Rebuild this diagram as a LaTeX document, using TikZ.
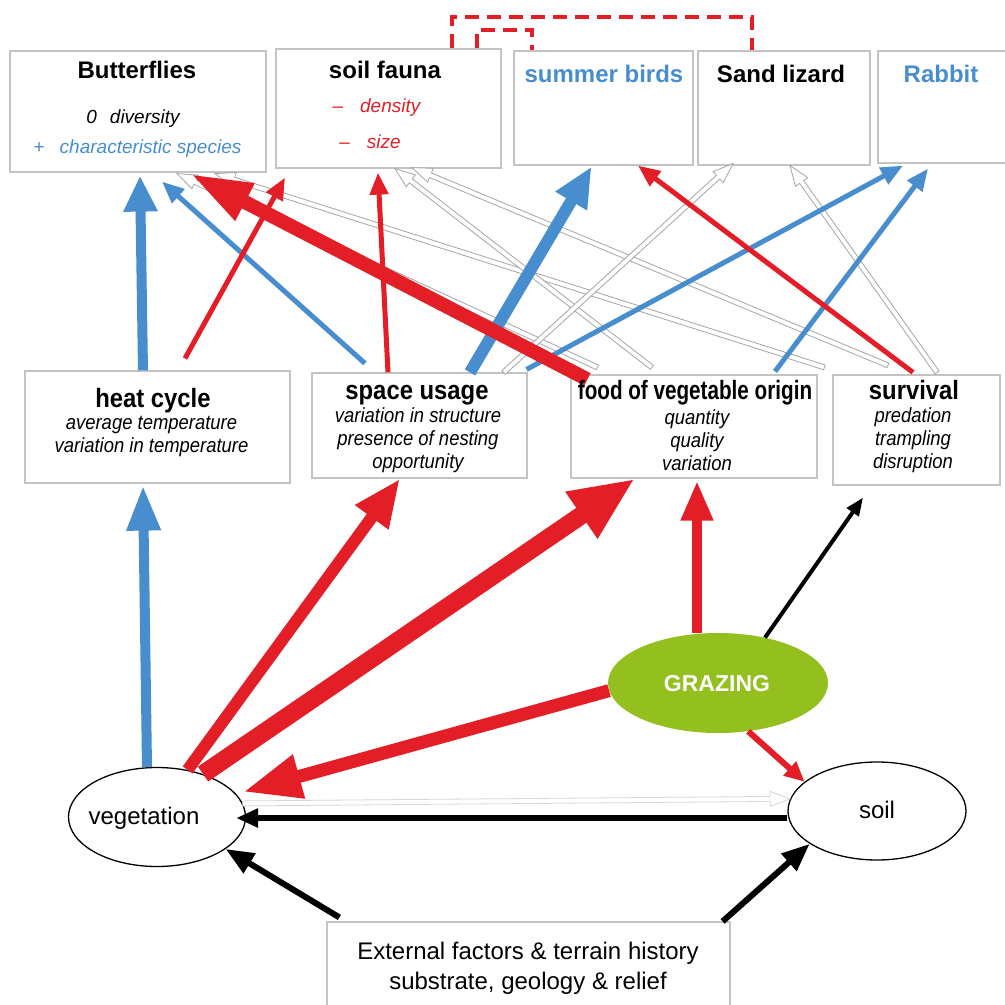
\documentclass[tikz,border=0pt]{standalone}
\usepackage{fontspec}
\setmainfont{Liberation Sans}
\newfontfamily\narrowfont{Liberation Sans}[FakeStretch=0.9]
\newfontfamily\narrowerfont{Liberation Sans}[FakeStretch=0.78]
\usetikzlibrary{arrows.meta,calc,shapes.geometric}
\definecolor{cblue}{RGB}{72,142,207}
\definecolor{cred}{RGB}{228,30,38}
\definecolor{cgreen}{RGB}{147,192,31}
\definecolor{boxgray}{RGB}{195,195,195}
\definecolor{arrgray}{RGB}{165,165,165}
\definecolor{lightarr}{RGB}{215,215,215}
\tikzset{
  box/.style={draw=boxgray, line width=1.2pt, fill=white, rectangle, inner sep=0pt},
  oval/.style={draw=black, line width=1.3pt, ellipse, inner sep=0pt, fill=white},
  ttl/.style={inner sep=0pt, anchor=base, font=\bfseries\fontsize{24}{28}\selectfont},
  sub/.style={inner sep=0pt, anchor=base, font=\itshape\fontsize{19}{22}\selectfont},
  mttl/.style={inner sep=0pt, anchor=base, font=\narrowfont\bfseries\fontsize{26.5}{30}\selectfont},
  msub/.style={inner sep=0pt, align=center, font=\narrowfont\itshape\fontsize{20.5}{23}\selectfont},
  plain/.style={inner sep=0pt, anchor=base, font=\fontsize{24}{30}\selectfont},
  arr/.style n args={3}{line width=#1, -{Triangle[length=#2,width=#3]}},
  hollow/.style={draw=arrgray, line width=0.8pt, fill=white, line join=miter},
  reddash/.style={draw=cred, line width=4pt, dash pattern=on 14pt off 8pt},
}
\newcommand\hollowarr[3][arrgray]{%
  \path #2 coordinate (ha-s) #3 coordinate (ha-e);
  \path ($(ha-e)!20pt!(ha-s)$) coordinate (ha-h);
  \filldraw[hollow, draw=#1] ($(ha-s)!2.5pt!90:(ha-e)$) -- ($(ha-h)!2.5pt!90:(ha-e)$)
    -- ($(ha-h)!7.5pt!90:(ha-e)$) -- (ha-e) -- ($(ha-h)!7.5pt!-90:(ha-e)$)
    -- ($(ha-h)!2.5pt!-90:(ha-e)$) -- ($(ha-s)!2.5pt!-90:(ha-e)$) -- cycle;
}
\begin{document}
\begin{tikzpicture}[x=1pt, y=-1pt]
\fill[white] (0,0) rectangle (1005,1005);
\useasboundingbox (0,0) rectangle (1005,1005);

% top boxes
\node[box, minimum width=256pt, minimum height=121pt] (bfly) at (138,111.5) {};
\node[box, minimum width=225pt, minimum height=119pt] (sfau) at (388.5,108.5) {};
\node[box, minimum width=179pt, minimum height=114pt] (birds) at (603.5,108) {};
\node[box, minimum width=172pt, minimum height=114pt] (lizard) at (784,108) {};
\node[box, minimum width=137pt, minimum height=112pt] (rabbit) at (946.5,107) {};

% middle boxes
\node[box, minimum width=265pt, minimum height=112pt] (heat) at (157.5,427) {};
\node[box, minimum width=215pt, minimum height=105pt] (space) at (419.5,425.5) {};
\node[box, minimum width=246pt, minimum height=103pt] (food) at (694,426.5) {};
\node[box, minimum width=167pt, minimum height=110pt] (surv) at (916.5,430) {};

% bottom
\node[oval, minimum width=177pt, minimum height=99pt] (veg) at (157,817) {};
\node[oval, minimum width=178pt, minimum height=98pt] (soil) at (877,811) {};
\node[ellipse, fill=cgreen, inner sep=0pt, minimum width=220pt, minimum height=100pt] (graz) at (718,683) {};
\node[box, minimum width=403pt, minimum height=90pt] (ext) at (528.5,967) {};

% dashed red links
\draw[reddash] ([xshift=63.5pt]sfau.north) -- ++(0,-31) -| ([xshift=-32pt]lizard.north);
\draw[reddash] ([xshift=88.5pt]sfau.north) -- ++(0,-18) -| ([xshift=-71.5pt]birds.north);

% gray hollow arrows
\hollowarr{([xshift=27pt,yshift=7pt]food.north west)}{([xshift=39pt,yshift=-1pt]bfly.south)}
\hollowarr{([xshift=-8pt,yshift=7pt]surv.north west)}{([xshift=77pt,yshift=-1pt]bfly.south)}
\hollowarr{([xshift=-28.5pt,yshift=9pt]surv.north)}{([xshift=23.5pt,yshift=1pt]sfau.south)}
\hollowarr{([xshift=-42pt,yshift=7pt]food.north)}{([xshift=6.5pt]sfau.south)}
\hollowarr{([xshift=-24pt]space.north east)}{([xshift=-51pt,yshift=2pt]lizard.south)}
\hollowarr{([xshift=20.5pt,yshift=2pt]surv.north)}{([xshift=6pt]lizard.south)}
\hollowarr[lightarr]{(veg.9)}{(soil.172)}

% blue arrows
\draw[cblue, arr={10pt}{36pt}{32pt}] ([xshift=-14.5pt]heat.north) -- ([xshift=2pt,yshift=-3pt]bfly.south);
\draw[cblue, arr={10pt}{45pt}{32pt}] ([xshift=-10pt]veg.north) -- ([xshift=-14.5pt,yshift=-2pt]heat.south);
\draw[cblue, arr={5pt}{22pt}{18pt}] ([xshift=-54.5pt,yshift=9pt]space.north) -- ([xshift=24pt,yshift=-9pt]bfly.south);
\draw[cblue, arr={12pt}{40pt}{34pt}] ([xshift=50.5pt]space.north) -- ([xshift=-12pt,yshift=-1pt]birds.south);
\draw[cblue, arr={5pt}{22pt}{18pt}] ([xshift=-1pt,yshift=3pt]space.north east) -- ([xshift=-43.5pt,yshift=-2pt]rabbit.south);
\draw[cblue, arr={5pt}{22pt}{18pt}] ([xshift=81pt,yshift=3pt]food.north) -- ([xshift=-18.5pt,yshift=-5pt]rabbit.south);

% red arrows
\draw[cred, arr={5pt}{22pt}{18pt}] ([xshift=27.5pt,yshift=12pt]heat.north) -- ([xshift=-103.5pt,yshift=-9pt]sfau.south);
\draw[cred, arr={5pt}{22pt}{18pt}] ([xshift=-31.5pt]space.north) -- ([xshift=-10.5pt,yshift=-4pt]sfau.south);
\draw[cred, arr={14pt}{62pt}{38pt}] ([xshift=17pt,yshift=-5pt]food.north west) -- ([xshift=52pt,yshift=-1pt]bfly.south);
\draw[cred, arr={5pt}{22pt}{18pt}] ([xshift=-3.5pt,yshift=2pt]surv.north) -- ([xshift=34.5pt]birds.south);
\draw[cred, arr={12pt}{48pt}{38pt}] (veg.57) -- ([xshift=-19.5pt]space.south);
\draw[cred, arr={18pt}{65pt}{52pt}] (veg.43) -- ([xshift=-59pt]food.south);
\draw[cred, arr={13pt}{58pt}{42pt}] (graz.184) -- ([xshift=9pt]veg.18);
\draw[cred, arr={10pt}{40pt}{30pt}] ([xshift=-21pt]graz.north) -- ([xshift=3pt,yshift=-2pt]food.south);
\draw[cred, arr={6pt}{20pt}{18pt}] (graz.-58) -- (soil.158);

% black arrows
\draw[black, arr={4pt}{18pt}{14pt}] (graz.44) -- ([xshift=-53.5pt,yshift=-12pt]surv.south);
\draw[black, arr={6pt}{22pt}{18pt}] ([yshift=-7pt]soil.west) -- ([xshift=-10pt,yshift=-1pt]veg.east);
\draw[black, arr={6pt}{28pt}{22pt}] ([xshift=13pt,yshift=4pt]ext.north west) -- (veg.-25);
\draw[black, arr={6pt}{28pt}{22pt}] ([xshift=-8pt]ext.north east) -- (soil.206);

% texts top
\node[ttl] (bflyT) at (137,78) {Butterflies};
\node[sub] (bflyA) at (133,123) {0\hspace{13pt}diversity};
\node[sub, text=cblue] (bflyB) at (137.5,153) {{\upshape +}\hspace{15pt}characteristic species};
\node[ttl] (sfauT) at (385,78) {soil fauna};
\node[sub, text=cred] (sfauA) at (376.5,112) {{\upshape –}\hspace{17pt}density};
\node[sub, text=cred] (sfauB) at (370,148) {{\upshape –}\hspace{17pt}size};
\node[ttl, text=cblue] (birdsT) at (604,82) {summer birds};
\node[ttl] (lizardT) at (781,82) {Sand lizard};
\node[ttl, text=cblue] (rabbitT) at (941,82) {Rabbit};

% texts middle
\node[mttl] (heatT) at (153,407) {heat cycle};
\node[msub] (heatS) at (151.5,436) {average temperature\\variation in temperature};
\node[mttl] (spaceT) at (417,399) {space usage};
\node[msub] (spaceS) at (418,440) {variation in structure\\presence of nesting\\opportunity};
\node[mttl, font=\narrowerfont\bfseries\fontsize{26.5}{30}\selectfont] (foodT) at (695,399) {food of vegetable origin};
\node[msub] (foodS) at (697,440) {quantity\\quality\\variation};
\node[mttl] (survT) at (914,399) {survival};
\node[msub] (survS) at (913,440) {predation\\trampling\\disruption};

% texts bottom
\node[plain] (vegT) at (144,824) {vegetation};
\node[plain] (soilT) at (877,818) {soil};
\node[inner sep=0pt, anchor=base, text=white, font=\bfseries\fontsize{23}{28}\selectfont] (grazT) at (717,691) {GRAZING};
\node[plain] (extA) at (528,959) {External factors \& terrain history};
\node[plain] (extB) at (528,989) {substrate, geology \& relief};
\end{tikzpicture}
\end{document}
